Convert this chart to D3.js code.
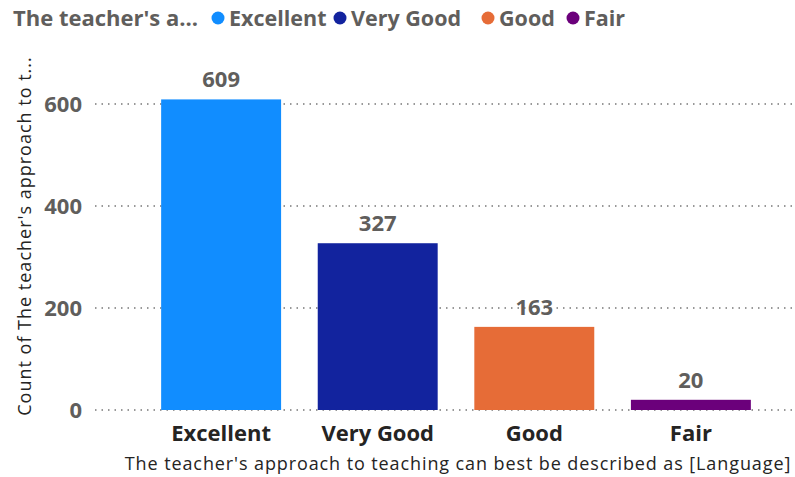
<!DOCTYPE html>
<html>
<head>
<meta charset="utf-8">
<script src="https://cdn.jsdelivr.net/npm/d3@7"></script>
<style>
  body { margin: 0; background: #fff; }
  svg text { font-family: "Open Sans", "DejaVu Sans", sans-serif; }
</style>
</head>
<body>
<svg width="795" height="477"></svg>
<script>
// chart data
var categories = ["Excellent", "Very Good", "Good", "Fair"];
var counts = [609, 327, 163, 20];
var colors = ["#118DFF", "#12239E", "#E66C37", "#6B007B"];
var yTicks = [0, 200, 400, 600];

var svg = d3.select("svg"),
    margin = { top: 60, right: 5, bottom: 67, left: 95 },
    width = +svg.attr("width"),
    height = +svg.attr("height");

var x = d3.scaleBand()
    .domain(categories)
    .range([122, 790])
    .paddingInner(0.234)
    .paddingOuter(0.25);

var y = d3.scaleLinear()
    .domain([0, 600])
    .range([410, 104]);

var color = d3.scaleOrdinal().domain(categories).range(colors);

// gridlines
svg.append("g")
    .selectAll("line")
    .data(yTicks)
    .enter()
    .append("line")
    .attr("x1", margin.left)
    .attr("x2", width)
    .attr("y1", function(d) { return y(d); })
    .attr("y2", function(d) { return y(d); })
    .attr("stroke", "#777")
    .attr("stroke-width", 1.5)
    .attr("stroke-dasharray", "1.5,5");

// y tick labels
svg.append("g")
    .attr("class", "y axis")
    .selectAll("text")
    .data(yTicks)
    .enter()
    .append("text")
    .attr("x", 82)
    .attr("y", function(d) { return y(d); })
    .attr("dy", "0.35em")
    .attr("text-anchor", "end")
    .attr("font-size", 22)
    .attr("font-weight", "bold")
    .attr("fill", "#605E5C")
    .text(function(d) { return d; });

// bars
svg.append("g")
    .selectAll("rect")
    .data(counts)
    .enter()
    .append("rect")
    .attr("x", function(d, i) { return x(categories[i]); })
    .attr("y", function(d) { return y(d); })
    .attr("width", x.bandwidth())
    .attr("height", function(d) { return y(0) - y(d); })
    .attr("fill", function(d, i) { return color(categories[i]); });

// data labels
svg.append("g")
    .selectAll("text")
    .data(counts)
    .enter()
    .append("text")
    .attr("x", function(d, i) { return x(categories[i]) + x.bandwidth() / 2; })
    .attr("y", function(d) { return y(d) - 12; })
    .attr("text-anchor", "middle")
    .attr("font-size", 22)
    .attr("font-weight", "bold")
    .attr("fill", "#605E5C")
    .text(function(d) { return d; });

// x category labels
svg.append("g")
    .attr("class", "x axis")
    .selectAll("text")
    .data(categories)
    .enter()
    .append("text")
    .attr("x", function(d) { return x(d) + x.bandwidth() / 2; })
    .attr("y", 441)
    .attr("text-anchor", "middle")
    .attr("font-size", 22)
    .attr("font-weight", "bold")
    .attr("fill", "#252423")
    .text(function(d) { return d; });

// axis titles
svg.append("text")
    .attr("x", 458)
    .attr("y", 470)
    .attr("text-anchor", "middle")
    .attr("font-size", 18)
    .attr("letter-spacing", 0.9)
    .attr("fill", "#252423")
    .text("The teacher's approach to teaching can best be described as [Language]");

svg.append("text")
    .attr("transform", "translate(31,236) rotate(-90)")
    .attr("text-anchor", "middle")
    .attr("font-size", 18)
    .attr("letter-spacing", 1)
    .attr("fill", "#252423")
    .text("Count of The teacher's approach to t...");

// legend
var legend = svg.append("g").attr("transform", "translate(0,18)");
legend.append("text")
    .attr("x", 13)
    .attr("dy", "0.35em")
    .attr("font-size", 22)
    .attr("font-weight", "bold")
    .attr("fill", "#605E5C")
    .text("The teacher's a...");

var legendX = [218, 340, 488, 573];
var items = legend.selectAll(".item")
    .data(categories)
    .enter()
    .append("g")
    .attr("class", "item")
    .attr("transform", function(d, i) { return "translate(" + legendX[i] + ",0)"; });
items.append("circle")
    .attr("r", 6.5)
    .attr("fill", function(d) { return color(d); });
items.append("text")
    .attr("x", 11)
    .attr("dy", "0.35em")
    .attr("font-size", 21.5)
    .attr("font-weight", "bold")
    .attr("fill", "#605E5C")
    .text(function(d) { return d; });
</script>
</body>
</html>
